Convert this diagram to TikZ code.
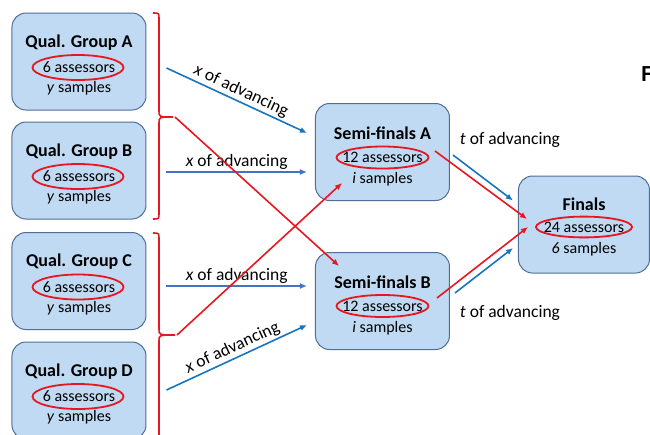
\documentclass[tikz,border=0pt]{standalone}
\usepackage{fontspec}
\setmainfont{Carlito}
\usepackage{tikz}
\usetikzlibrary{shapes,arrows.meta,calc,positioning}
\definecolor{boxfill}{RGB}{191,218,242}
\definecolor{boxline}{RGB}{80,110,150}
\definecolor{redline}{RGB}{232,22,32}
\definecolor{blueline}{RGB}{24,116,190}
\definecolor{bluelight}{RGB}{68,114,196}
\tikzset{
    group/.style={rectangle, rounded corners=7pt, draw=boxline, fill=boxfill, line width=0.5pt, minimum width=67pt, minimum height=48.5pt},
    ttl/.style={font=\fontsize{9}{11}\selectfont\bfseries, inner sep=0pt},
    cnt/.style={font=\fontsize{8}{10}\selectfont, inner sep=0pt},
    ring/.style={draw=redline, line width=0.9pt},
    smp/.style={font=\fontsize{8}{10}\selectfont, inner sep=0pt},
    adv/.style={-{Latex[length=3.5pt,width=3pt]}, blueline, line width=0.8pt},
    pick/.style={-{Latex[length=3.5pt,width=3pt]}, redline, line width=0.8pt},
    lbl/.style={font=\fontsize{8.75}{10}\selectfont, inner sep=1pt, text=black},
    brace/.style={redline, line width=0.8pt}
}
\begin{document}
\begin{tikzpicture}[x=0.5pt,y=-0.5pt]
\useasboundingbox (0,0) rectangle (650,435);
\clip (0,0) rectangle (650,435);
% boxes
\node[group](1) at (79,61.5){};
\node[group](2) at (79,170.5){};
\node[group](3) at (79,281){};
\node[group](4) at (79,390.5){};
\node[group](5) at (382.5,152){};
\node[group](6) at (382.5,301){};
\node[group, minimum width=65.5pt](7) at (584,224.5){};
% qualifying groups
\node[ttl](t1) at ($(1)+(0,-19)$){Qual. Group A};
\node[cnt](e1) at ($(1)+(0,6)$){6 assessors};
\node[smp](s1) at ($(1)+(0,27)$){\textit{y} samples};
\node[ttl](t2) at ($(2)+(0,-19)$){Qual. Group B};
\node[cnt](e2) at ($(2)+(0,6)$){6 assessors};
\node[smp](s2) at ($(2)+(0,27)$){\textit{y} samples};
\node[ttl](t3) at ($(3)+(0,-19)$){Qual. Group C};
\node[cnt](e3) at ($(3)+(0,6)$){6 assessors};
\node[smp](s3) at ($(3)+(0,27)$){\textit{y} samples};
\node[ttl](t4) at ($(4)+(0,-19)$){Qual. Group D};
\node[cnt](e4) at ($(4)+(0,6)$){6 assessors};
\node[smp](s4) at ($(4)+(0,27)$){\textit{y} samples};
% semi-finals and finals
\node[ttl](t5) at ($(5)+(0,-19)$){Semi-finals A};
\node[cnt](e5) at ($(5)+(0,5.5)$){12 assessors};
\node[smp](s5) at ($(5)+(0,27)$){\textit{i} samples};
\node[ttl](t6) at ($(6)+(0,-19)$){Semi-finals B};
\node[cnt](e6) at ($(6)+(0,5)$){12 assessors};
\node[smp](s6) at ($(6)+(0,27)$){\textit{i} samples};
\node[ttl](t7) at ($(7)+(0,-20)$){Finals};
\node[cnt](e7) at ($(7)+(0,2.5)$){24 assessors};
\node[smp](s7) at ($(7)+(0,25)$){\textit{6} samples};
% red rings
\draw[ring] ($(e1)+(-1,0)$) ellipse [x radius=22.75pt, y radius=6.25pt];
\draw[ring] ($(e2)+(-1,0)$) ellipse [x radius=22.75pt, y radius=6.25pt];
\draw[ring] ($(e3)+(-1,0)$) ellipse [x radius=22.75pt, y radius=6.25pt];
\draw[ring] ($(e4)+(-1,0)$) ellipse [x radius=22.75pt, y radius=6.25pt];
\draw[ring] (e5) ellipse [x radius=23pt, y radius=5.5pt];
\draw[ring] (e6) ellipse [x radius=23pt, y radius=5.5pt];
\draw[ring] (e7) ellipse [x radius=24pt, y radius=5.2pt];
% braces
\draw[brace] (153,13) .. controls (159,13) .. (159,19) -- (159,111) .. controls (159,117) .. (173,117) .. controls (159,117) .. (159,123) -- (159,213) .. controls (159,219) .. (153,219);
\draw[brace] (153,233) .. controls (159,233) .. (159,239) -- (159,329) .. controls (159,335) .. (175,335) .. controls (159,335) .. (159,341) -- (159,480);
\coordinate (b1) at (175,117);
\coordinate (b2) at (177,335);
% advancing
\draw[adv] ($(1.east)+(20,6.5)$) -- node[lbl, sloped, above]{\textit{x} of advancing} ($(5.west)+(-8,-19)$);
\draw[adv, bluelight] ($(2.east)+(20,1.5)$) -- node[lbl, above]{\textit{x} of advancing} ($(5.west)+(-8,20)$);
\draw[adv, bluelight] ($(3.east)+(20,5)$) -- node[lbl, above]{\textit{x} of advancing} ($(6.west)+(-8,-15)$);
\draw[adv] ($(4.east)+(20,-0.5)$) -- node[lbl, sloped, above]{\textit{x} of advancing} ($(6.west)+(-8,24)$);
\draw[pick] (b1) -- ($(6.north west)+(24,14)$);
\draw[pick] (b2) -- ($(5.south west)+(27,-18)$);
\draw[adv] ($(5.east)+(3,3)$) -- ($(7.west)+(-5,-24)$);
\draw[pick] ($(5.east)+(-15,-1)$) -- ($(7.west)+(9,-5.5)$);
\draw[adv] ($(6.east)+(5,-8)$) -- ($(7.west)+(-5,23.5)$);
\draw[pick] ($(6.east)+(-13,-3)$) -- ($(7.west)+(10,2.5)$);
\node[lbl](l1) at (510,140){\textit{t} of advancing};
\node[lbl](l2) at (510,313){\textit{t} of advancing};
\node[font=\fontsize{11.5}{12}\selectfont\bfseries, anchor=west, inner sep=0pt](f) at (641,74){F};
\end{tikzpicture}
\end{document}
